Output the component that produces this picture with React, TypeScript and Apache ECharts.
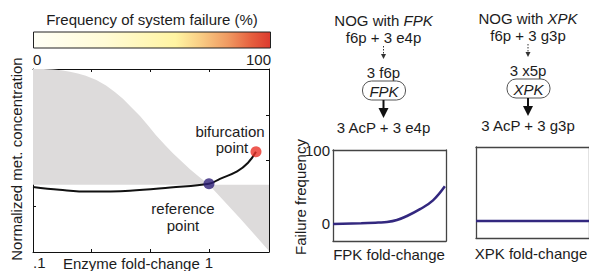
import React, { useEffect, useRef } from 'react';
import * as echarts from 'echarts';

// ---- data ----
const colorbarTitle = 'Frequency of system failure (%)';
const colorbarTicks = ['0', '100'];
const refLevel = 1.47;
// boundary of failure region (x = log10 enzyme fold-change, y = normalized conc.)
const boundaryX = [-1, -0.94, -0.886, -0.84, -0.79, -0.745, -0.7, -0.64, -0.585, -0.535, -0.489, -0.44, -0.392, -0.345, -0.301, -0.25, -0.205, -0.155, -0.108, -0.055, 0, 0.176, 0.341];
const boundaryY = [4.03, 4.01, 3.99, 3.97, 3.94, 3.9, 3.85, 3.76, 3.64, 3.5, 3.35, 3.16, 2.97, 2.76, 2.55, 2.34, 2.16, 1.98, 1.81, 1.64, 1.47, 0.74, 0.02];
const lineX = [-1, -0.85, -0.68, -0.45, -0.22, 0, 0.0625, 0.16, 0.222, 0.267];
const lineY = [1.42, 1.36, 1.32, 1.34, 1.41, 1.49, 1.6, 1.76, 1.95, 2.19];
const referencePoint = [0, 1.49];
const bifurcationPoint = [0.267, 2.19];
const mainXTicks = [-2 / 3, -1 / 3, 0];
const mainXLabelValues = [-1, 0];
const mainXLabels = ['.1', '1'];
const mainYTicks = [1, 2, 3];
const fpkX = [0, 0.25, 0.4, 0.478, 0.566, 0.655, 0.77, 0.885, 0.99];
const fpkY = [0, 1, 2, 2.7, 5.4, 10.8, 20, 32, 51];
const xpkX = [0, 1];
const xpkY = [0, 0];
const failYLabels = [0, 100];

const FONT = 'Liberation Sans, Arial, sans-serif';
const TXT = '#1c1c1c';
const MAIN_YMAX = 4;

function txt(x: number, y: number, text: string, extra: any = {}) {
  return {
    type: 'text',
    x,
    y,
    silent: true,
    style: {
      text,
      fill: TXT,
      font: `15px ${FONT}`,
      align: 'center',
      verticalAlign: 'middle',
      ...extra,
    },
  };
}

function diagram(cx: number, dy: number, title: string, enzyme: string, sub1: string, mid: string, prod: string) {
  const els: any[] = [];
  els.push({
    type: 'text', x: cx, y: 20 + dy, silent: true,
    style: {
      text: `{a|${title} }{b|${enzyme}}`,
      align: 'center', verticalAlign: 'middle',
      rich: {
        a: { fontSize: 15, fontFamily: FONT, fill: TXT },
        b: { fontSize: 15, fontFamily: FONT, fill: TXT, fontStyle: 'italic' },
      },
    },
  });
  els.push(txt(cx, 37.5 + dy, sub1));
  els.push({ type: 'line', silent: true, shape: { x1: cx, y1: 46 + dy, x2: cx, y2: 55 + dy }, style: { stroke: '#333', lineWidth: 1, lineDash: [1.5, 1.5] } });
  els.push({ type: 'polygon', silent: true, shape: { points: [[cx - 2.5, 54 + dy], [cx + 2.5, 54 + dy], [cx, 59 + dy]] }, style: { fill: '#333' } });
  els.push(txt(cx, 72 + dy, mid));
  els.push({ type: 'rect', silent: true, shape: { x: cx - 21, y: 81 + dy, width: 43, height: 19, r: 9 }, style: { fill: '#fff', stroke: '#555', lineWidth: 1 } });
  els.push(txt(cx + 0.5, 91 + dy, enzyme, { font: `italic 15px ${FONT}` }));
  els.push({ type: 'line', silent: true, shape: { x1: cx, y1: 100 + dy, x2: cx, y2: 110 + dy }, style: { stroke: '#111', lineWidth: 2 } });
  els.push({ type: 'polygon', silent: true, shape: { points: [[cx - 5, 108 + dy], [cx + 5, 108 + dy], [cx, 118 + dy]] }, style: { fill: '#111' } });
  els.push(txt(cx, 127 + dy, prod));
  return els;
}

export default function App() {
  const ref = useRef<HTMLDivElement>(null);
  useEffect(() => {
    if (!ref.current) return;
    const chart = echarts.init(ref.current, undefined, { renderer: 'svg' });
    const boxAxis = (gridIndex: number, position: string, min: number, max: number, color: string, ticks?: number[], labelVals?: number[], labelFmt?: (v: number) => string, width = 1, alignMin?: string) => ({
      type: 'value',
      gridIndex,
      position,
      min,
      max,
      axisLine: { show: true, onZero: false, lineStyle: { color, width } },
      axisTick: ticks ? { show: true, inside: true, length: 3, customValues: ticks, lineStyle: { color } } : { show: false },
      axisLabel: labelVals
        ? { show: true, customValues: labelVals, formatter: labelFmt, color: TXT, fontSize: 15, fontFamily: FONT, margin: 3, alignMinLabel: alignMin }
        : { show: false },
      splitLine: { show: false },
    });
    const option: any = {
      animation: false,
      backgroundColor: '#fff',
      grid: [
        { left: 33, top: 69, width: 236, height: 183 },
        { left: 333, top: 150, width: 113, height: 91 },
        { left: 476, top: 147, width: 114, height: 91 },
      ],
      xAxis: [
        boxAxis(0, 'bottom', -1, 0.341, '#111', mainXTicks, mainXLabelValues, (v: number) => mainXLabels[mainXLabelValues.indexOf(v)] ?? '', 1, 'left'),
        boxAxis(0, 'top', -1, 0.341, '#111', mainXTicks),
        boxAxis(1, 'bottom', 0, 1, '#444', undefined, undefined, undefined, 1.3),
        boxAxis(1, 'top', 0, 1, '#444', undefined, undefined, undefined, 1.3),
        boxAxis(2, 'bottom', 0, 1, '#444', undefined, undefined, undefined, 1.3),
        boxAxis(2, 'top', 0, 1, '#444', undefined, undefined, undefined, 1.3),
      ],
      yAxis: [
        boxAxis(0, 'left', 0, MAIN_YMAX, '#111', mainYTicks),
        boxAxis(0, 'right', 0, MAIN_YMAX, '#111', mainYTicks),
        boxAxis(1, 'left', -23, 100, '#444', undefined, failYLabels, (v: number) => String(v), 1.3),
        boxAxis(1, 'right', -23, 100, '#444', undefined, undefined, undefined, 1.3),
        boxAxis(2, 'left', -23, 100, '#444', undefined, undefined, undefined, 1.3),
        boxAxis(2, 'right', -23, 100, '#444', undefined, undefined, undefined, 1.3),
      ],
      series: [
        {
          type: 'custom', xAxisIndex: 0, yAxisIndex: 0, silent: true, z: 1,
          data: [[0, 0]],
          renderItem: (_params: any, api: any) => {
            const top = boundaryX.map((x, i) => api.coord([x, Math.min(boundaryY[i], MAIN_YMAX)]));
            const base = boundaryX.slice().reverse().map((x) => api.coord([x, refLevel]));
            return {
              type: 'polygon',
              shape: { points: top.concat(base) },
              style: { fill: '#dddbdb', stroke: 'none' },
            };
          },
        },
        {
          type: 'line', xAxisIndex: 0, yAxisIndex: 0, smooth: 0.4, symbol: 'none', silent: true,
          lineStyle: { color: '#111', width: 2 },
          data: lineX.map((x, i) => [x, lineY[i]]),
          z: 3,
        },
        {
          type: 'scatter', xAxisIndex: 0, yAxisIndex: 0, symbolSize: 11, silent: true,
          data: [
            { value: referencePoint, itemStyle: { color: '#2e1f78' } },
            { value: bifurcationPoint, itemStyle: { color: '#ea3127' } },
          ],
          z: 4,
        },
        {
          type: 'line', xAxisIndex: 2, yAxisIndex: 2, smooth: 0.4, symbol: 'none', silent: true,
          lineStyle: { color: '#33287f', width: 2.5 },
          data: fpkX.map((x, i) => [x, fpkY[i]]),
        },
        {
          type: 'line', xAxisIndex: 4, yAxisIndex: 4, symbol: 'none', silent: true,
          lineStyle: { color: '#33287f', width: 2.5 },
          data: xpkX.map((x, i) => [x, xpkY[i]]),
        },
      ],
      graphic: [
        txt(152, 19, colorbarTitle),
        {
          type: 'rect', silent: true,
          shape: { x: 33.5, y: 32, width: 237, height: 16 },
          style: {
            stroke: '#222', lineWidth: 1,
            fill: new echarts.graphic.LinearGradient(0, 0, 1, 0, [
              { offset: 0, color: '#fffff6' },
              { offset: 0.3, color: '#fffbd6' },
              { offset: 0.6, color: '#fff4a2' },
              { offset: 0.7, color: '#f9cf86' },
              { offset: 0.82, color: '#f09a62' },
              { offset: 0.92, color: '#e65f3e' },
              { offset: 1, color: '#dc3a2e' },
            ]),
          },
        },
        txt(33, 59, colorbarTicks[0], { align: 'left' }),
        txt(271, 59, colorbarTicks[1], { align: 'right' }),
        { ...txt(16, 159, 'Normalized met. concentration'), rotation: Math.PI / 2 },
        txt(63, 263, 'Enzyme fold-change', { align: 'left' }),
        txt(230, 131, 'bifurcation'),
        txt(232, 147, 'point'),
        txt(183, 208, 'reference'),
        txt(183, 225, 'point'),
        { ...txt(300, 197, 'Failure frequency'), rotation: Math.PI / 2 },
        txt(389, 254, 'FPK fold-change'),
        txt(531, 253, 'XPK fold-change'),
        ...diagram(383.5, 0, 'NOG with', 'FPK', 'f6p + 3 e4p', '3 f6p', '3 AcP + 3 e4p'),
        ...diagram(528, -2, 'NOG with', 'XPK', 'f6p + 3 g3p', '3 x5p', '3 AcP + 3 g3p'),
      ],
    };
    chart.setOption(option);
    return () => chart.dispose();
  }, []);
  return (
    <div
      ref={ref}
      style={{ position: 'fixed', left: 0, top: 0, width: 589, height: 271, background: '#fff' }}
    />
  );
}
